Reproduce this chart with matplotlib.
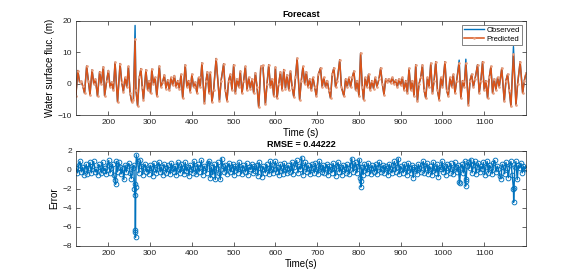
import numpy as np
import matplotlib
matplotlib.use("Agg")
import matplotlib.pyplot as plt

plt.rcParams['font.family'] = ['Liberation Sans', 'DejaVu Sans']

# ---- top panel: observed surface fluctuation (turning points)
t_obs = [122,127,131,135,139,143,148,152,156,161,165,169,174,179,183,188,191,196,200,204,
         208,212,216,222,228,232,236,240,244,248,252,256,260,264,266,270,274,278,281,284,
         290,294,298,301,304,308,312,316,322,326,330,334,338,342,346,350,354,358,362,366,
         370,374,378,384,388,392,396,400,404,408,412,416,420,424,430,434,437,441,444,448,
         452,458,466,470,476,480,484,488,492,496,500,504,508,512,516,520,524,528,532,536,
         540,544,548,552,556,560,565,570,576,580,584,588,592,596,600,604,608,612,616,620,
         624,628,632,636,640,644,648,652,658,662,666,670,674,678,682,686,690,694,698,703,
         708,712,716,720,724,728,732,736,740,744,748,754,758,764,768,772,776,780,784,788,
         792,796,800,804,808,811,815,819,823,827,831,835,839,843,848,852,856,860,864,868,
         872,876,880,884,888,892,896,900,904,908,912,916,920,924,928,932,936,940,944,948,
         952,956,960,964,968,972,976,980,984,988,992,996,1000,1006,1010,1014,1018,1022,1026,1030,
         1034,1040,1044,1048,1052,1056,1062,1066,1070,1074,1078,1084,1088,1092,1096,1100,1104,1108,1112,1116,
         1120,1124,1128,1132,1136,1142,1148,1152,1156,1160,1164,1170,1176,1180,1186,1192,1196,1200]
observed = [-4,4.2,0.5,0.8,-0.8,-3,5.6,1,-3.5,4.4,0,1.5,-4,3.8,0,5.4,-3.8,1,4.2,-1,
            0.5,-2,6.8,-5.8,6.4,0.5,-2.5,2,-1,5.5,-3,-5.8,-5,18.5,-2,-7,2,4.8,-1,-5,
            4.4,-2,1,-3,4.6,0,2,-4,5.6,-1,0.5,2.8,-1.5,1.2,-2,2,-0.5,2.6,-1,1,
            -1.5,3,-4.6,6,-1,1,-2.5,3,-1,0.5,-3,2,-1,6.6,-6.2,1,3.8,-3,3.6,-5.8,
            -2,8,-5.4,1,6.3,-2,-5.4,1,3,-2,6,-3,1.5,-1,4,-3,1,5.5,-2,2,
            -1.5,1.5,-3,3.5,-1,-7.5,5.5,5.8,-6.5,0,6,-1,1.5,-4,5.3,-4.6,0,3.8,-2,4.5,
            -1.5,2.8,-2,4,-1,-4.2,2,8.1,-5.1,1,5.5,0,3.8,-1,1.5,-2,2,-1,-4,3,
            5,-1,2,-1,1,-2,-4.6,3,5,-1,1,7.6,-1,-4,1.5,-1,2,-1,2,4,
            -2,1,-4,9.7,-1,-5,2,-1,3,-2,1,-1.5,2,-1,1.5,5,0,-3.5,1.5,0.5,
            1.5,0.3,2,0,1.2,-1,1.5,-0.5,2,-2,1,-3,4.9,-2,1,-4,6,-5.6,0,2,
            6,-2,-4.6,2,-1,6.5,-3,1,7,-2,-5.1,2,-1,7,-2,-4,2,-1,3,-3,
            1,7.5,-4.6,1,-1,7.8,-6.7,1,3,-1,1.5,6,-3,1,7,-2,1,-4.6,2,5.5,
            -3,1.5,-2,2,-1,4.9,-5.6,1,3,-2,-7.2,11.8,-6.7,0,7,-3,1,3.3]
# predicted differs visibly from observed only at the spikes
spike_times = [264, 1040, 1056, 1170]
predicted_at_spikes = [14.2, 6.6, 6.5, 9.3]

# ---- bottom panel: forecast error (3 s sampling) + spike samples
err_start, err_step = 123, 3
error = [0.2,-0.3,0.5,0.9,-0.2,0.3,-0.5,0.1,0.6,-0.4,0.2,0.8,
         -0.3,0.4,0.9,-0.2,0.1,-0.5,0.6,0.3,-0.3,0.8,-0.1,0.2,
         -0.4,0.5,1.0,-0.3,0.2,0.6,-0.5,-1.1,0.9,-0.2,0.8,0.3,
         -0.4,0.2,-1.0,0.5,-0.2,0.4,0.7,-0.3,-0.9,0.2,0.5,-1.5,
         1.6,0.9,-0.3,1.0,0.4,-0.5,0.3,0.6,-0.2,0.1,-0.4,0.5,
         0.2,-0.6,0.7,0.1,-0.3,0.4,0.8,-0.2,0.3,-0.5,0.6,0.2,
         -0.3,0.5,0.1,-0.4,0.7,0.2,-0.2,0.4,-0.5,0.8,0.1,-0.3,
         0.6,0.2,-0.4,0.8,-0.1,0.3,-0.6,0.5,0.1,-0.3,0.9,0.2,
         -0.4,0.6,-0.2,0.3,1.0,-0.5,0.4,0.2,-0.3,0.7,0.9,-0.8,
         0.3,-0.5,0.6,-1.0,0.2,0.8,-0.3,-1.0,1.2,0.4,-0.2,0.5,
         -0.4,0.3,0.7,-0.2,0.1,0.6,-0.5,0.4,0.2,-0.3,0.8,0.1,
         -0.4,0.5,0.2,-0.2,0.7,-0.5,0.3,0.1,0.6,-0.3,0.4,-0.1,
         0.5,-0.6,0.8,0.2,-0.7,0.4,0.1,-0.3,0.6,0.2,-0.4,0.9,
         0.1,-0.3,0.5,0.9,-0.2,0.3,-0.5,0.6,0.2,-0.4,0.7,0.1,
         -0.3,0.5,0.2,-0.2,0.8,-0.4,0.3,0.6,1.0,-0.3,0.4,0.1,
         1.3,-0.5,0.3,0.8,-0.2,0.5,0.1,-0.4,0.6,0.2,-0.3,0.7,
         0.1,-0.4,0.9,0.3,-0.2,0.5,-0.3,0.2,0.6,-0.5,0.4,0.1,
         -0.3,0.7,0.2,-0.6,0.4,0.8,-0.2,0.3,-0.5,0.5,0.1,-0.3,
         0.6,0.2,-0.4,0.5,1.2,-0.2,0.3,0.8,-0.3,0.4,1.1,-1.2,
         0.3,-0.5,0.6,0.2,-0.3,0.7,0.1,-0.4,0.5,0.2,-0.2,0.6,
         -0.4,0.3,0.8,-0.2,0.1,0.5,-0.3,0.4,0.2,-0.5,0.6,0.1,
         -0.3,0.5,0.9,-0.2,0.3,1.2,-0.4,0.4,0.1,-0.3,0.6,0.2,
         -0.5,0.7,0.2,-0.3,0.5,-0.8,0.3,0.1,-0.4,0.6,0.2,-0.2,
         0.5,0.9,-0.3,0.2,0.7,-0.4,0.4,0.1,-0.5,0.8,0.2,-0.3,
         0.6,-0.7,0.3,0.1,0.9,-0.2,0.4,-0.5,0.6,0.2,-0.3,0.7,
         0.1,-0.4,0.8,0.3,-0.2,0.5,-1.4,0.2,0.6,-0.3,0.9,-1.2,
         0.4,0.8,0.2,1.1,-0.3,0.5,0.9,-0.4,0.3,0.7,-0.2,0.4,
         0.1,0.8,-0.5,0.3,0.9,-0.3,0.5,0.2,-0.4,0.7,1.0,-0.2,
         0.4,0.1,-0.6,-0.9,0.6,0.3,-0.4,0.8,0.2,-0.8,0.5,0.9,
         -0.5,-2.0,0.3,0.9,-1.0,0.5,0.2,0.7,-0.3,0.4,0.1,0.2]
t_err_extra = [217.5, 262.5, 263.5, 264.2, 264.6, 265.0, 265.5,
               803.0, 804.5, 1040.5, 1055.5, 1056.5, 1170.5, 1171.5]
err_extra = [-1.5, -2.0, -2.6, -6.3, -6.5, -7.1, -1.8,
             -0.8, -1.8, -1.3, -1.7, -1.0, -3.4, -1.9]
rmse_text = "RMSE = 0.44222"

# ---- build series
t_obs_a = np.array(t_obs, float)
obs_a = np.array(observed, float)
pred_a = obs_a.copy()
for ts, pv in zip(spike_times, predicted_at_spikes):
    pred_a[t_obs_a == ts] = pv

t_err = err_start + err_step * np.arange(len(error))
t_all = np.concatenate([t_err, t_err_extra])
e_all = np.concatenate([error, err_extra])
order = np.argsort(t_all, kind='stable')
t_all, e_all = t_all[order], e_all[order]

BLUE = '#0072BD'
ORANGE = '#D95319'
AXC = '#262626'

fig = plt.figure(figsize=(5.81, 2.76), dpi=100)
ax1 = fig.add_axes([0.1308, 0.5822, 0.7745, 0.3428])
ax2 = fig.add_axes([0.1308, 0.1087, 0.7745, 0.3442])

ax1.plot(t_obs_a, obs_a, color=BLUE, lw=1.0, label='Observed')
ax1.plot(t_obs_a, pred_a, color=ORANGE, lw=1.1, marker='.', markersize=1.8,
         markerfacecolor='#E8A080', markeredgecolor='#E8A080', label='Predicted')
ax1.set_xlim(122.5, 1200)
ax1.set_ylim(-10, 20)
ax1.set_yticks([-10, 0, 10, 20])
ax1.set_title('Forecast', fontsize=6.5, fontweight='bold', pad=3)
ax1.set_xlabel('Time (s)', fontsize=7, labelpad=1)
ax1.set_ylabel('Water surface fluc. (m)', fontsize=7, labelpad=2)
leg = ax1.legend(loc='upper right', fontsize=5.5, frameon=True, fancybox=False,
                 borderpad=0.3, handlelength=2.6, handletextpad=0.3, labelspacing=0.15,
                 borderaxespad=0.5)
leg.get_frame().set_edgecolor(AXC)
leg.get_frame().set_linewidth(0.5)

ax2.plot(t_all, e_all, color=BLUE, lw=1.0, marker='o', markersize=3.4,
         markerfacecolor='none', markeredgewidth=0.65)
ax2.set_xlim(122.5, 1200)
ax2.set_ylim(-8, 2)
ax2.set_yticks([-8, -6, -4, -2, 0, 2])
ax2.set_title(rmse_text, fontsize=6.5, fontweight='bold', pad=3)
ax2.set_xlabel('Time(s)', fontsize=7, labelpad=1)
ax2.set_ylabel('Error', fontsize=7, labelpad=2)

for ax in (ax1, ax2):
    ax.set_xticks(np.arange(200, 1101, 100))
    ax.tick_params(direction='in', top=True, right=True, length=3, width=0.5,
                   labelsize=6, colors=AXC, pad=3)
    for s in ax.spines.values():
        s.set_linewidth(0.5)
        s.set_color(AXC)

fig.savefig('out.png', dpi=100)
